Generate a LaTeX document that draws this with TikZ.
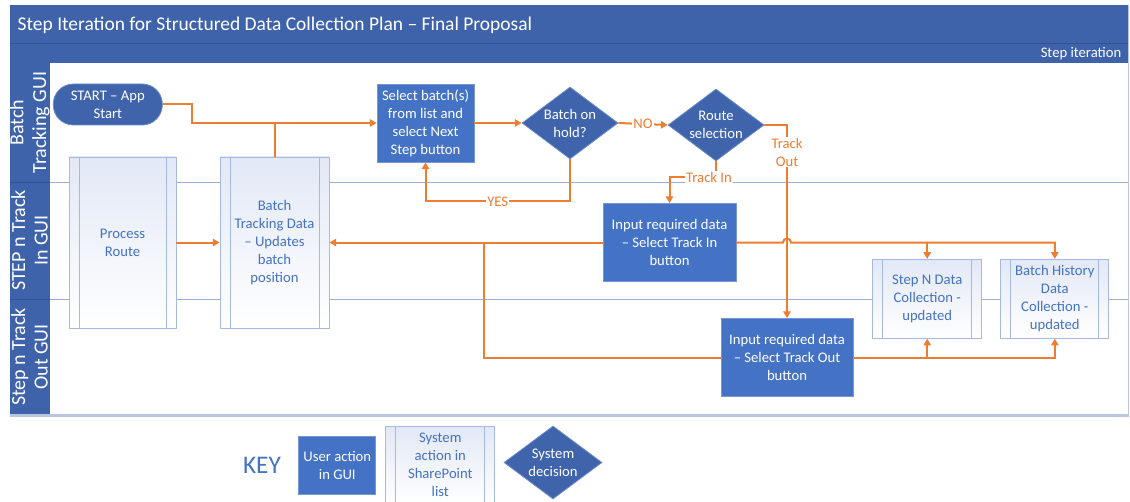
\documentclass[tikz,border=0pt]{standalone}
\usepackage{fontspec}
\setmainfont{Carlito}
\usetikzlibrary{shapes.geometric,arrows.meta,calc}

\definecolor{hdr}{RGB}{62,99,170}
\definecolor{hdrline}{RGB}{50,82,145}
\definecolor{uact}{RGB}{68,114,196}
\definecolor{uactedge}{RGB}{120,150,210}
\definecolor{dec}{RGB}{63,100,172}
\definecolor{decedge}{RGB}{110,140,200}
\definecolor{sysedge}{RGB}{165,185,225}
\definecolor{sysfill}{RGB}{226,232,246}
\definecolor{systext}{RGB}{68,114,196}
\definecolor{flowc}{RGB}{237,125,49}
\definecolor{lane}{RGB}{155,175,212}
\definecolor{frame}{RGB}{185,198,225}

\tikzset{
  base/.style={font=\fontsize{11}{13.5}\selectfont, align=center},
  dims/.style 2 args={minimum width=#1*0.75pt, minimum height=#2*0.75pt},
  useract/.style={base, rectangle, fill=uact, draw=uactedge, line width=0.6pt,
    text=white, inner sep=0pt},
  sysact/.style={base, rectangle, draw=sysedge, line width=0.6pt,
    top color=sysfill, bottom color=white, text=systext, inner sep=0pt,
    path picture={\draw[sysedge, line width=0.6pt]
      ([xshift=7.5pt]path picture bounding box.north west) --
      ([xshift=7.5pt]path picture bounding box.south west)
      ([xshift=-7.5pt]path picture bounding box.north east) --
      ([xshift=-7.5pt]path picture bounding box.south east);}},
  decision/.style={base, diamond, aspect=1.333, fill=dec, draw=decedge,
    line width=0.6pt, text=white, inner sep=-1pt},
  terminal/.style={base, rectangle, rounded corners=15pt, fill=dec,
    draw=decedge, line width=0.6pt, text=white, inner sep=0pt},
  flow/.style={draw=flowc, line width=1.5pt},
  arr/.style={flow, -{Triangle[length=5pt,width=5.5pt]}},
  flowlabel/.style={base, fill=white, text=flowc, inner sep=0.8pt},
  lanelabel/.style={font=\fontsize{15}{17}\selectfont, align=center,
    text=white, rotate=90},
}

\begin{document}
\begin{tikzpicture}[x=0.75pt, y=-0.75pt]
\useasboundingbox (0,0) rectangle (1130,502);
\fill[white] (0,0) rectangle (1130,502);

% header bands
\fill[hdr] (9.5,5) rectangle (1128.5,63.5);
\draw[hdrline, line width=0.6pt] (9.5,43.5) -- (1128.5,43.5);
\node[anchor=west, text=white, font=\fontsize{14.6}{18}\selectfont]
  (title) at (13,25) {Step Iteration for Structured Data Collection Plan -- Final Proposal};
\node[anchor=east, text=white, font=\fontsize{11}{13}\selectfont]
  (iter) at (1126,54) {Step iteration};

% lane label column
\fill[hdr] (9.5,63.5) rectangle (50,415.5);
\draw[hdrline, line width=0.6pt] (9.5,182) -- (50,182) (9.5,299) -- (50,299);
\node[lanelabel] (laneA) at (29.5,122.5) {Batch\\Tracking GUI};
\node[lanelabel] (laneB) at (29.5,240.5) {STEP n Track\\In GUI};
\node[lanelabel] (laneC) at (29.5,357) {Step n Track\\Out GUI};

% lane separators and frame
\draw[lane, line width=0.7pt] (50,182) -- (1128.5,182) (50,299) -- (1128.5,299);
\draw[frame, line width=1.2pt] (1128.5,5) -- (1128.5,415.5);
\draw[frame, line width=1.6pt] (9.5,415.5) -- (1128.5,415.5);

% process nodes
\node[terminal, dims={109}{41}] (start) at (107.8,104.5) {START -- App\\Start};
\node[sysact, dims={107}{171}] (proc) at (122.5,242.5) {Process\\Route};
\node[sysact, dims={109}{171}] (btd) at (274.5,242.5)
  {Batch\\Tracking Data\\-- Updates\\batch\\position};
\node[useract, dims={97}{78}] (sel) at (425.5,123)
  {Select batch(s)\\from list and\\select Next\\Step button};
\node[decision, dims={96}{72}] (hold) at (570,123) {Batch on\\hold?};
\node[decision, dims={96}{72}] (route) at (716,125) {Route\\selection};
\node[useract, dims={133}{78}] (tin) at (669.5,242.5)
  {Input required data\\-- Select Track In\\button};
\node[useract, dims={132}{78}] (tout) at (787,357.5)
  {Input required data\\-- Select Track Out\\button};
\node[sysact, dims={109}{79}] (stepn) at (927.2,298.8)
  {Step N Data\\Collection -\\updated};
\node[sysact, dims={108}{79}] (bhist) at (1054.8,298.8)
  {Batch History\\Data\\Collection -\\updated};

% connectors
\draw[arr] (start.east) -- ++(29,0) |- (sel.west);
\draw[flow] (btd.north) -- (btd.north |- sel.west);
\draw[arr] (sel.east) -- (hold.west);
\draw[arr] (hold.east) -- node[flowlabel] (lblno) {NO} (route.west);
\draw[arr] (hold.south) -- ++(0,42) -| node[flowlabel, pos=0.25] (lblyes) {YES} (sel.south);
\draw[arr] (route.south) -- ++(0,16) -| (tin.north);
\node[flowlabel] (lbltin) at (709,177) {Track In};
\draw[arr] (route.east) -| node[flowlabel, pos=0.57] (lbltout) {Track\\Out} (tout.north);
\draw[arr] (proc.east) -- (btd.west);
\draw[arr] (tin.west) -- (btd.east);
\coordinate (merge) at (484,242.5);
\draw[flow] (tout.west) -| (merge);
\coordinate (hop) at (787,242.5);
\draw[arr] (tin.east) -- ($(hop)+(-4,0)$) arc[start angle=180, end angle=360, radius=4]
  -| (bhist.north);
\draw[arr] (stepn.north |- tin.east) -- (stepn.north);
\draw[arr] (tout.east) -| (bhist.south);
\draw[arr] (stepn.south |- tout.east) -- (stepn.south);

% key
\node[text=uact, font=\fontsize{19}{22}\selectfont] (key) at (262,465) {KEY};
\node[useract, dims={77}{58}] (keyuser) at (337.3,465) {User action\\in GUI};
\node[sysact, dims={109}{78}] (keysys) at (440.3,465)
  {System\\action in\\SharePoint\\list};
\node[decision, dims={98}{73}] (keydec) at (553,462.5) {System\\decision};
\end{tikzpicture}
\end{document}
